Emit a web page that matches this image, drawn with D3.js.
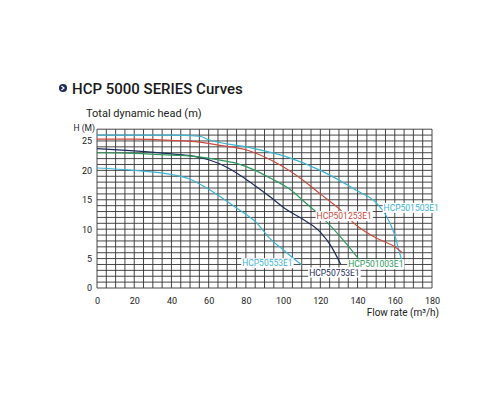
<!DOCTYPE html><html><head><meta charset="utf-8">
<script src="https://cdn.jsdelivr.net/npm/d3@7"></script>
<style>body{margin:0;background:#fff}text{font-family:Roboto,"Liberation Sans",sans-serif}</style></head><body>
<svg id="c" width="500" height="400"></svg>
<script>
const xTicks=[0,20,40,60,80,100,120,140,160,180];
const yTicks=[0,5,10,15,20,25];
const names=["HCP501503E1","HCP501253E1","HCP50753E1","HCP501003E1","HCP50553E1"];
const colors=["#3cb4d4","#cc4a3e","#1c2c5c","#2f9a5c","#3cb4d4"];
const s1503=[[0,26],[20,26],[40,26],[55,25.8],[60,25.2],[80,24],[100,22.5],[120,20],[140,16.5],[150,14.5],[155,12.5],[160,9],[163,5.5],[164,4.5]];
const s1253=[[0,25.3],[20,25.3],[40,25.1],[55,24.8],[65,24.3],[80,23.5],[95,21.5],[110,18.5],[120,16],[130,13.5],[140,10.5],[150,8.5],[160,7],[164,6]];
const s753=[[0,23.7],[20,23.3],[40,22.8],[50,22.5],[60,21.8],[70,20.5],[80,18.5],[93,15.5],[102,13.3],[110,11.8],[120,9.5],[126,7],[131,4]];
const s1003=[[0,23],[20,22.9],[40,22.6],[55,22.3],[65,21.8],[75,21.2],[85,20],[93,18.7],[104,16.7],[112,14.5],[120,12.3],[130,9],[141,4.8]];
const s553=[[0,20.4],[20,20],[40,19.3],[50,18.5],[60,16.8],[75,13.6],[86,11],[93,8.4],[100,6.5],[110,3.9]];
const series=[s1503,s1253,s753,s1003,s553];
const labelPos=[[154,13.5],[118,12.1],[114,2.5],[135,3.9],[78,4.1]];

const svg=d3.select("#c");
const x=d3.scaleLinear().domain([0,180]).range([97,432]);
const y=d3.scaleLinear().domain([0,27]).range([288,129.2]);
const g=svg.append("g");
d3.range(0,181,5).forEach(v=>g.append("line").attr("x1",x(v)).attr("x2",x(v)).attr("y1",y(0)).attr("y2",y(27)).attr("stroke","#333").attr("stroke-width",0.9));
d3.range(0,28,1).forEach(v=>g.append("line").attr("x1",x(0)).attr("x2",x(180)).attr("y1",y(v)).attr("y2",y(v)).attr("stroke","#333").attr("stroke-width",0.9));
svg.append("g").attr("transform","translate(0,288)").call(d3.axisBottom(x).tickValues(xTicks).tickSize(0).tickPadding(10))
  .call(a=>a.select(".domain").remove()).selectAll("text").attr("font-size",9).attr("fill","#222").attr("font-family","Roboto");
svg.append("g").attr("transform","translate(97,0)").call(d3.axisLeft(y).tickValues(yTicks).tickSize(0).tickPadding(5))
  .call(a=>a.select(".domain").remove()).selectAll("text").attr("font-size",9).attr("fill","#222").attr("font-family","Roboto");
const line=d3.line().x(d=>x(d[0])).y(d=>y(d[1])).curve(d3.curveMonotoneX);
series.forEach((s,i)=>svg.append("path").attr("d",line(s)).attr("fill","none").attr("stroke",colors[i]).attr("stroke-width",1.2));
const lg=svg.append("g");
names.forEach((n,i)=>{
  const t=lg.append("text").attr("x",x(labelPos[i][0])).attr("y",y(labelPos[i][1])).attr("font-size",8.5)
    .attr("fill",colors[i]).attr("dominant-baseline","middle").text(n);
  const b=t.node().getBBox();
  lg.insert("rect",()=>t.node()).attr("x",b.x-1).attr("y",b.y).attr("width",b.width+2).attr("height",b.height).attr("fill","#fff");
});
svg.append("circle").attr("cx",63).attr("cy",88).attr("r",4).attr("fill","#1a2a5c");
svg.append("path").attr("d","M61.5,86 L64,88 L61.5,90").attr("fill","none").attr("stroke","#fff").attr("stroke-width",1.2);
svg.append("text").attr("x",72).attr("y",94).attr("font-size",15).attr("font-weight",500).attr("fill","#1a1a1a").text("HCP 5000 SERIES Curves");
svg.append("text").attr("x",86).attr("y",117).attr("font-size",11).attr("fill","#222").text("Total dynamic head (m)");
svg.append("text").attr("x",95).attr("y",131).attr("text-anchor","end").attr("font-size",8.5).attr("fill","#222").text("H (M)");
svg.append("text").attr("x",439).attr("y",316).attr("text-anchor","end").attr("font-size",10).attr("fill","#222").text("Flow rate (m³/h)");
</script></body></html>
